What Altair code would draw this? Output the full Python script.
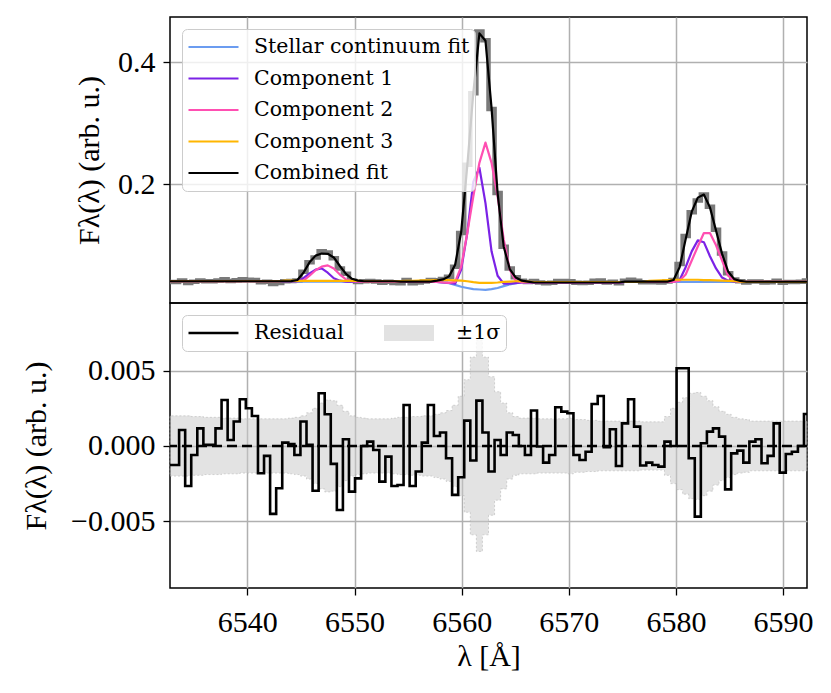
import altair as alt
import pandas as pd

# ---------------- wavelength sampling (Angstrom) ----------------
lam_start = 6532.78
lam_step = 0.5662
n_pix = 106
wave = [round(lam_start + lam_step * i, 4) for i in range(n_pix)]

x_domain = [6532.78, 6592.23]
x_ticks = [6540, 6550, 6560, 6570, 6580, 6590]
top_y_domain = [0.0054, 0.4738]
top_y_ticks = [0.2, 0.4]
bot_y_domain = [-0.00943, 0.00949]
bot_y_ticks = [-0.005, 0.0, 0.005]

# ---------------- observed spectrum ----------------
observed = [
    0.0397, 0.0397, 0.0421, 0.0383, 0.0404, 0.0422, 0.0411, 0.0411, 0.0422, 0.0441,
    0.0414, 0.0426, 0.0441, 0.0435, 0.0430, 0.0392, 0.0403, 0.0365, 0.0382, 0.0412,
    0.0413, 0.0424, 0.0566, 0.0721, 0.0800, 0.0900, 0.0881, 0.0788, 0.0618, 0.0534,
    0.0420, 0.0398, 0.0410, 0.0413, 0.0407, 0.0386, 0.0403, 0.0383, 0.0379, 0.0432,
    0.0379, 0.0388, 0.0407, 0.0432, 0.0427, 0.0449, 0.0482, 0.0647, 0.1199, 0.2317,
    0.3490, 0.4500, 0.4359, 0.3233, 0.1854, 0.0974, 0.0619, 0.0477, 0.0420, 0.0399,
    0.0414, 0.0390, 0.0379, 0.0384, 0.0416, 0.0413, 0.0412, 0.0384, 0.0381, 0.0386,
    0.0418, 0.0423, 0.0389, 0.0401, 0.0377, 0.0420, 0.0436, 0.0418, 0.0392, 0.0394,
    0.0392, 0.0391, 0.0408, 0.0430, 0.0692, 0.1152, 0.1542, 0.1733, 0.1832, 0.1630,
    0.1252, 0.0866, 0.0541, 0.0440, 0.0412, 0.0391, 0.0405, 0.0406, 0.0390, 0.0395,
    0.0417, 0.0384, 0.0397, 0.0398, 0.0402, 0.0423,
]

# ---------------- fit curves ----------------
continuum = [
    0.0410, 0.0410, 0.0410, 0.0410, 0.0410, 0.0410, 0.0410, 0.0410, 0.0410, 0.0410,
    0.0410, 0.0410, 0.0410, 0.0410, 0.0410, 0.0410, 0.0410, 0.0410, 0.0410, 0.0410,
    0.0410, 0.0405, 0.0405, 0.0405, 0.0405, 0.0405, 0.0405, 0.0405, 0.0405, 0.0405,
    0.0405, 0.0405, 0.0405, 0.0405, 0.0405, 0.0405, 0.0405, 0.0405, 0.0405, 0.0405,
    0.0405, 0.0400, 0.0400, 0.0400, 0.0400, 0.0390, 0.0380, 0.0350, 0.0320, 0.0300,
    0.0280, 0.0275, 0.0270, 0.0280, 0.0300, 0.0330, 0.0360, 0.0380, 0.0390, 0.0390,
    0.0390, 0.0390, 0.0390, 0.0390, 0.0390, 0.0390, 0.0390, 0.0390, 0.0390, 0.0390,
    0.0390, 0.0390, 0.0390, 0.0390, 0.0390, 0.0398, 0.0398, 0.0398, 0.0398, 0.0398,
    0.0398, 0.0398, 0.0398, 0.0400, 0.0400, 0.0400, 0.0400, 0.0400, 0.0400, 0.0400,
    0.0400, 0.0400, 0.0400, 0.0400, 0.0400, 0.0400, 0.0400, 0.0400, 0.0400, 0.0400,
    0.0400, 0.0400, 0.0400, 0.0400, 0.0400, 0.0400,
]

component1 = [
    0.0410, 0.0410, 0.0410, 0.0410, 0.0410, 0.0410, 0.0410, 0.0410, 0.0410, 0.0410,
    0.0410, 0.0410, 0.0410, 0.0410, 0.0410, 0.0410, 0.0410, 0.0410, 0.0410, 0.0410,
    0.0410, 0.0410, 0.0460, 0.0540, 0.0600, 0.0620, 0.0550, 0.0460, 0.0420, 0.0405,
    0.0405, 0.0405, 0.0405, 0.0405, 0.0405, 0.0405, 0.0405, 0.0405, 0.0405, 0.0405,
    0.0405, 0.0400, 0.0400, 0.0400, 0.0400, 0.0390, 0.0385, 0.0370, 0.0600, 0.1200,
    0.2040, 0.2270, 0.1690, 0.0900, 0.0500, 0.0370, 0.0370, 0.0380, 0.0390, 0.0390,
    0.0390, 0.0390, 0.0390, 0.0390, 0.0390, 0.0390, 0.0390, 0.0390, 0.0390, 0.0390,
    0.0390, 0.0390, 0.0390, 0.0390, 0.0390, 0.0398, 0.0398, 0.0398, 0.0398, 0.0398,
    0.0398, 0.0398, 0.0398, 0.0405, 0.0430, 0.0640, 0.0900, 0.1080, 0.1050, 0.0820,
    0.0620, 0.0470, 0.0420, 0.0405, 0.0400, 0.0400, 0.0400, 0.0400, 0.0400, 0.0400,
    0.0400, 0.0400, 0.0400, 0.0400, 0.0400, 0.0400,
]

component2 = [
    0.0410, 0.0410, 0.0410, 0.0410, 0.0410, 0.0410, 0.0410, 0.0410, 0.0410, 0.0410,
    0.0410, 0.0410, 0.0410, 0.0410, 0.0410, 0.0410, 0.0410, 0.0410, 0.0410, 0.0410,
    0.0410, 0.0410, 0.0420, 0.0500, 0.0590, 0.0650, 0.0670, 0.0620, 0.0520, 0.0440,
    0.0410, 0.0405, 0.0405, 0.0405, 0.0405, 0.0405, 0.0405, 0.0405, 0.0405, 0.0405,
    0.0405, 0.0400, 0.0400, 0.0400, 0.0400, 0.0390, 0.0385, 0.0400, 0.0650, 0.1200,
    0.1800, 0.2350, 0.2680, 0.2350, 0.1800, 0.1100, 0.0600, 0.0420, 0.0390, 0.0390,
    0.0390, 0.0390, 0.0390, 0.0390, 0.0390, 0.0390, 0.0390, 0.0390, 0.0390, 0.0390,
    0.0390, 0.0390, 0.0390, 0.0390, 0.0390, 0.0398, 0.0398, 0.0398, 0.0398, 0.0398,
    0.0398, 0.0398, 0.0398, 0.0400, 0.0420, 0.0520, 0.0750, 0.0980, 0.1200, 0.1200,
    0.1000, 0.0750, 0.0500, 0.0420, 0.0400, 0.0400, 0.0400, 0.0400, 0.0400, 0.0400,
    0.0400, 0.0400, 0.0400, 0.0400, 0.0400, 0.0400,
]

component3 = [
    0.0410, 0.0410, 0.0410, 0.0410, 0.0410, 0.0410, 0.0410, 0.0410, 0.0410, 0.0410,
    0.0410, 0.0410, 0.0410, 0.0410, 0.0410, 0.0410, 0.0410, 0.0410, 0.0410, 0.0420,
    0.0420, 0.0417, 0.0417, 0.0417, 0.0417, 0.0417, 0.0417, 0.0417, 0.0417, 0.0417,
    0.0417, 0.0417, 0.0410, 0.0410, 0.0410, 0.0410, 0.0410, 0.0410, 0.0412, 0.0415,
    0.0418, 0.0420, 0.0423, 0.0425, 0.0428, 0.0430, 0.0430, 0.0425, 0.0420, 0.0410,
    0.0395, 0.0385, 0.0385, 0.0385, 0.0390, 0.0400, 0.0405, 0.0410, 0.0410, 0.0405,
    0.0398, 0.0398, 0.0398, 0.0398, 0.0398, 0.0398, 0.0398, 0.0398, 0.0398, 0.0398,
    0.0398, 0.0398, 0.0398, 0.0398, 0.0398, 0.0398, 0.0398, 0.0398, 0.0398, 0.0415,
    0.0420, 0.0425, 0.0430, 0.0435, 0.0435, 0.0435, 0.0435, 0.0435, 0.0430, 0.0430,
    0.0425, 0.0420, 0.0415, 0.0410, 0.0405, 0.0400, 0.0400, 0.0400, 0.0400, 0.0400,
    0.0400, 0.0400, 0.0400, 0.0400, 0.0400, 0.0400,
]

combined = [
    0.0410, 0.0410, 0.0410, 0.0410, 0.0410, 0.0410, 0.0410, 0.0410, 0.0410, 0.0410,
    0.0410, 0.0410, 0.0410, 0.0410, 0.0410, 0.0410, 0.0410, 0.0410, 0.0410, 0.0410,
    0.0412, 0.0430, 0.0550, 0.0720, 0.0830, 0.0865, 0.0860, 0.0800, 0.0660, 0.0530,
    0.0450, 0.0420, 0.0410, 0.0410, 0.0410, 0.0410, 0.0410, 0.0410, 0.0405, 0.0405,
    0.0405, 0.0405, 0.0405, 0.0405, 0.0420, 0.0440, 0.0490, 0.0680, 0.1220, 0.2300,
    0.3500, 0.4470, 0.4350, 0.3250, 0.1850, 0.0980, 0.0610, 0.0470, 0.0420, 0.0405,
    0.0390, 0.0390, 0.0390, 0.0390, 0.0390, 0.0390, 0.0390, 0.0390, 0.0390, 0.0390,
    0.0390, 0.0390, 0.0390, 0.0390, 0.0390, 0.0405, 0.0405, 0.0405, 0.0405, 0.0405,
    0.0405, 0.0405, 0.0405, 0.0430, 0.0640, 0.1100, 0.1550, 0.1780, 0.1830, 0.1620,
    0.1240, 0.0860, 0.0570, 0.0445, 0.0415, 0.0402, 0.0402, 0.0402, 0.0402, 0.0402,
    0.0402, 0.0402, 0.0402, 0.0402, 0.0402, 0.0402,
]

# ---------------- residuals and 1-sigma errors ----------------
residual = [
    -0.00126, -0.00126, 0.00106, -0.00266, -0.00060, 0.00117, 0.00007, 0.00007, 0.00117, 0.00305,
    0.00040, 0.00162, 0.00310, 0.00250, 0.00199, -0.00181, -0.00066, -0.00451, -0.00281, 0.00022,
    0.00013, -0.00060, 0.00162, 0.00007, -0.00297, 0.00350, 0.00210, -0.00119, -0.00425, 0.00044,
    -0.00303, -0.00215, 0.00000, 0.00029, -0.00027, -0.00237, -0.00071, -0.00266, -0.00259, 0.00272,
    -0.00266, -0.00170, 0.00022, 0.00272, 0.00066, 0.00089, -0.00082, -0.00325, -0.00208, 0.00168,
    -0.00097, 0.00301, 0.00089, -0.00170, 0.00040, -0.00060, 0.00089, 0.00073, 0.00000, -0.00060,
    0.00235, -0.00004, -0.00111, -0.00060, 0.00257, 0.00228, 0.00217, -0.00060, -0.00093, -0.00038,
    0.00279, 0.00332, -0.00009, 0.00111, -0.00133, 0.00150, 0.00310, 0.00128, -0.00130, -0.00111,
    -0.00126, -0.00137, 0.00029, 0.00000, 0.00516, 0.00516, -0.00082, -0.00469, 0.00018, 0.00095,
    0.00117, 0.00062, -0.00288, -0.00049, -0.00031, -0.00111, 0.00029, 0.00044, -0.00115, -0.00066,
    0.00150, -0.00177, -0.00053, -0.00038, 0.00000, 0.00212,
]

sigma = [
    0.00200, 0.00200, 0.00200, 0.00200, 0.00195, 0.00195, 0.00190, 0.00190, 0.00190, 0.00185,
    0.00185, 0.00185, 0.00180, 0.00180, 0.00180, 0.00180, 0.00180, 0.00180, 0.00180, 0.00180,
    0.00185, 0.00190, 0.00200, 0.00220, 0.00250, 0.00285, 0.00305, 0.00300, 0.00270, 0.00230,
    0.00200, 0.00190, 0.00185, 0.00180, 0.00180, 0.00180, 0.00180, 0.00185, 0.00190, 0.00190,
    0.00195, 0.00195, 0.00200, 0.00200, 0.00210, 0.00220, 0.00235, 0.00270, 0.00330, 0.00440,
    0.00590, 0.00700, 0.00590, 0.00460, 0.00360, 0.00285, 0.00220, 0.00195, 0.00185, 0.00185,
    0.00185, 0.00180, 0.00180, 0.00180, 0.00180, 0.00180, 0.00185, 0.00175, 0.00175, 0.00170,
    0.00170, 0.00165, 0.00165, 0.00165, 0.00165, 0.00165, 0.00165, 0.00165, 0.00160, 0.00160,
    0.00160, 0.00160, 0.00195, 0.00250, 0.00290, 0.00320, 0.00350, 0.00355, 0.00330, 0.00300,
    0.00260, 0.00230, 0.00210, 0.00190, 0.00180, 0.00175, 0.00165, 0.00165, 0.00165, 0.00165,
    0.00165, 0.00165, 0.00165, 0.00165, 0.00165, 0.00165,
]
zero_level = [0.0]

series_names = ["Stellar continuum fit", "Component 1", "Component 2", "Component 3", "Combined fit"]
series_colors = ["#6b9cf0", "#7b22e6", "#ff4fb2", "#ffb600", "#000000"]
series_widths = [2.2, 2.2, 2.2, 2.2, 3.5]
resid_names = ["Residual", "\u00b11\u03c3"]
resid_colors = ["#000000", "#e2e2e2"]
resid_widths = [2.6, 16]

# ---------------- tables ----------------
series_values = [continuum, component1, component2, component3, combined]
fit_rows = []
for name, vals in zip(series_names, series_values):
    for w, v in zip(wave, vals):
        fit_rows.append({"wave": w, "flux": v, "series": name})
fit_df = pd.DataFrame(fit_rows)
obs_df = pd.DataFrame({"wave": wave, "flux": observed})
res_df = pd.DataFrame({
    "wave": wave,
    "resid": residual,
    "lo": [-s for s in sigma],
    "hi": sigma,
    "kind": ["Residual"] * n_pix,
})
zero_df = pd.DataFrame({"zero": zero_level})

FONT = "Liberation Serif"
LEGEND_FONT = "DejaVu Serif"

x_scale = alt.Scale(domain=x_domain, nice=False, zero=False)
x_top = alt.X("wave:Q", scale=x_scale,
              axis=alt.Axis(values=x_ticks, labels=False, ticks=False, title=None, grid=True,
                            minExtent=0, maxExtent=0, labelPadding=0, offset=0))
x_bot = alt.X("wave:Q", scale=x_scale,
              axis=alt.Axis(values=x_ticks, format="d", title="\u03bb [\u00c5]", grid=True,
                            labelPadding=12, titlePadding=4, labelFlush=False))

top_axis = alt.Axis(values=top_y_ticks, format=".1f", title="F\u03bb(\u03bb) (arb. u.)",
                    minExtent=56, maxExtent=56, titlePadding=10, labelPadding=8, grid=True)
top_scale = alt.Scale(domain=top_y_domain, nice=False, zero=False)
bot_axis = alt.Axis(values=bot_y_ticks, format=".3f", title="F\u03bb(\u03bb) (arb. u.)",
                    minExtent=109, maxExtent=109, titlePadding=10, labelPadding=8, grid=True)
bot_scale = alt.Scale(domain=bot_y_domain, nice=False, zero=False)

legend_common = dict(
    title=None, orient="top-left", offset=12, symbolType="stroke", symbolSize=2500,
    clipHeight=26, rowPadding=5.5, labelOffset=14, padding=5,
    fillColor="rgba(255,255,255,0.8)", strokeColor="#cccccc", cornerRadius=5,
    labelFont=LEGEND_FONT, labelFontSize=20.5, labelColor="black", labelLimit=400,
)
legend_top = alt.Legend(**legend_common)
legend_bot = alt.Legend(direction="horizontal", columnPadding=32, **legend_common)

# ---------------- top panel ----------------
top_layers = [
    alt.Chart(obs_df).mark_line(interpolate="step", color="#7a7a7a", strokeWidth=4.5).encode(
        x=x_top, y=alt.Y("flux:Q", scale=top_scale, axis=top_axis)
    )
]
for name in series_names:
    top_layers.append(
        alt.Chart(fit_df).transform_filter(alt.datum.series == name).mark_line(strokeJoin="round").encode(
            x=x_top,
            y=alt.Y("flux:Q", scale=top_scale, axis=top_axis),
            color=alt.Color("series:N", scale=alt.Scale(domain=series_names, range=series_colors),
                            legend=legend_top),
            strokeWidth=alt.StrokeWidth("series:N", scale=alt.Scale(domain=series_names, range=series_widths),
                                        legend=legend_top),
        )
    )
top = alt.layer(*top_layers).properties(width=637, height=286)

# ---------------- bottom panel ----------------
band = alt.Chart(res_df).mark_area(
    interpolate="step", fill="#c8c8c8", fillOpacity=0.5,
    stroke="#b5b5b5", strokeWidth=0.8, strokeOpacity=0.7, strokeDash=[2, 2]
).encode(
    x=x_bot, y=alt.Y("lo:Q", scale=bot_scale, axis=bot_axis), y2="hi:Q"
)
zero_line = alt.Chart(zero_df).mark_rule(color="black", strokeWidth=2.4, strokeDash=[10, 5]).encode(
    y=alt.Y("zero:Q", scale=bot_scale, axis=bot_axis)
)
resid_line = alt.Chart(res_df).mark_line(interpolate="step", strokeJoin="miter").encode(
    x=x_bot,
    y=alt.Y("resid:Q", scale=bot_scale, axis=bot_axis),
    color=alt.Color("kind:N", scale=alt.Scale(domain=resid_names, range=resid_colors), legend=legend_bot),
    strokeWidth=alt.StrokeWidth("kind:N", scale=alt.Scale(domain=resid_names, range=resid_widths),
                                legend=legend_bot),
)
bottom = alt.layer(band, zero_line, resid_line).properties(width=637, height=285)

chart = (
    alt.vconcat(top, bottom, spacing=0, bounds="flush")
    .resolve_scale(color="independent", strokeWidth="independent")
    .resolve_legend(color="independent", strokeWidth="independent")
    .properties(padding={"left": 12, "top": 8, "right": 5, "bottom": 5})
    .configure(font=FONT)
    .configure_view(stroke="black", strokeWidth=1.5)
    .configure_legend(labelFont=LEGEND_FONT, labelFontSize=20.5, labelColor="black")
    .configure_axis(
        labelFont=FONT, titleFont=FONT, labelFontSize=30, titleFontSize=30,
        titleFontWeight="normal", labelColor="black", titleColor="black",
        tickColor="black", tickWidth=1.3, tickSize=7,
        gridColor="#b0b0b0", gridWidth=1.5, domain=False,
    )
)

chart.save("out.html", embed_options={"renderer": "svg", "actions": False})
